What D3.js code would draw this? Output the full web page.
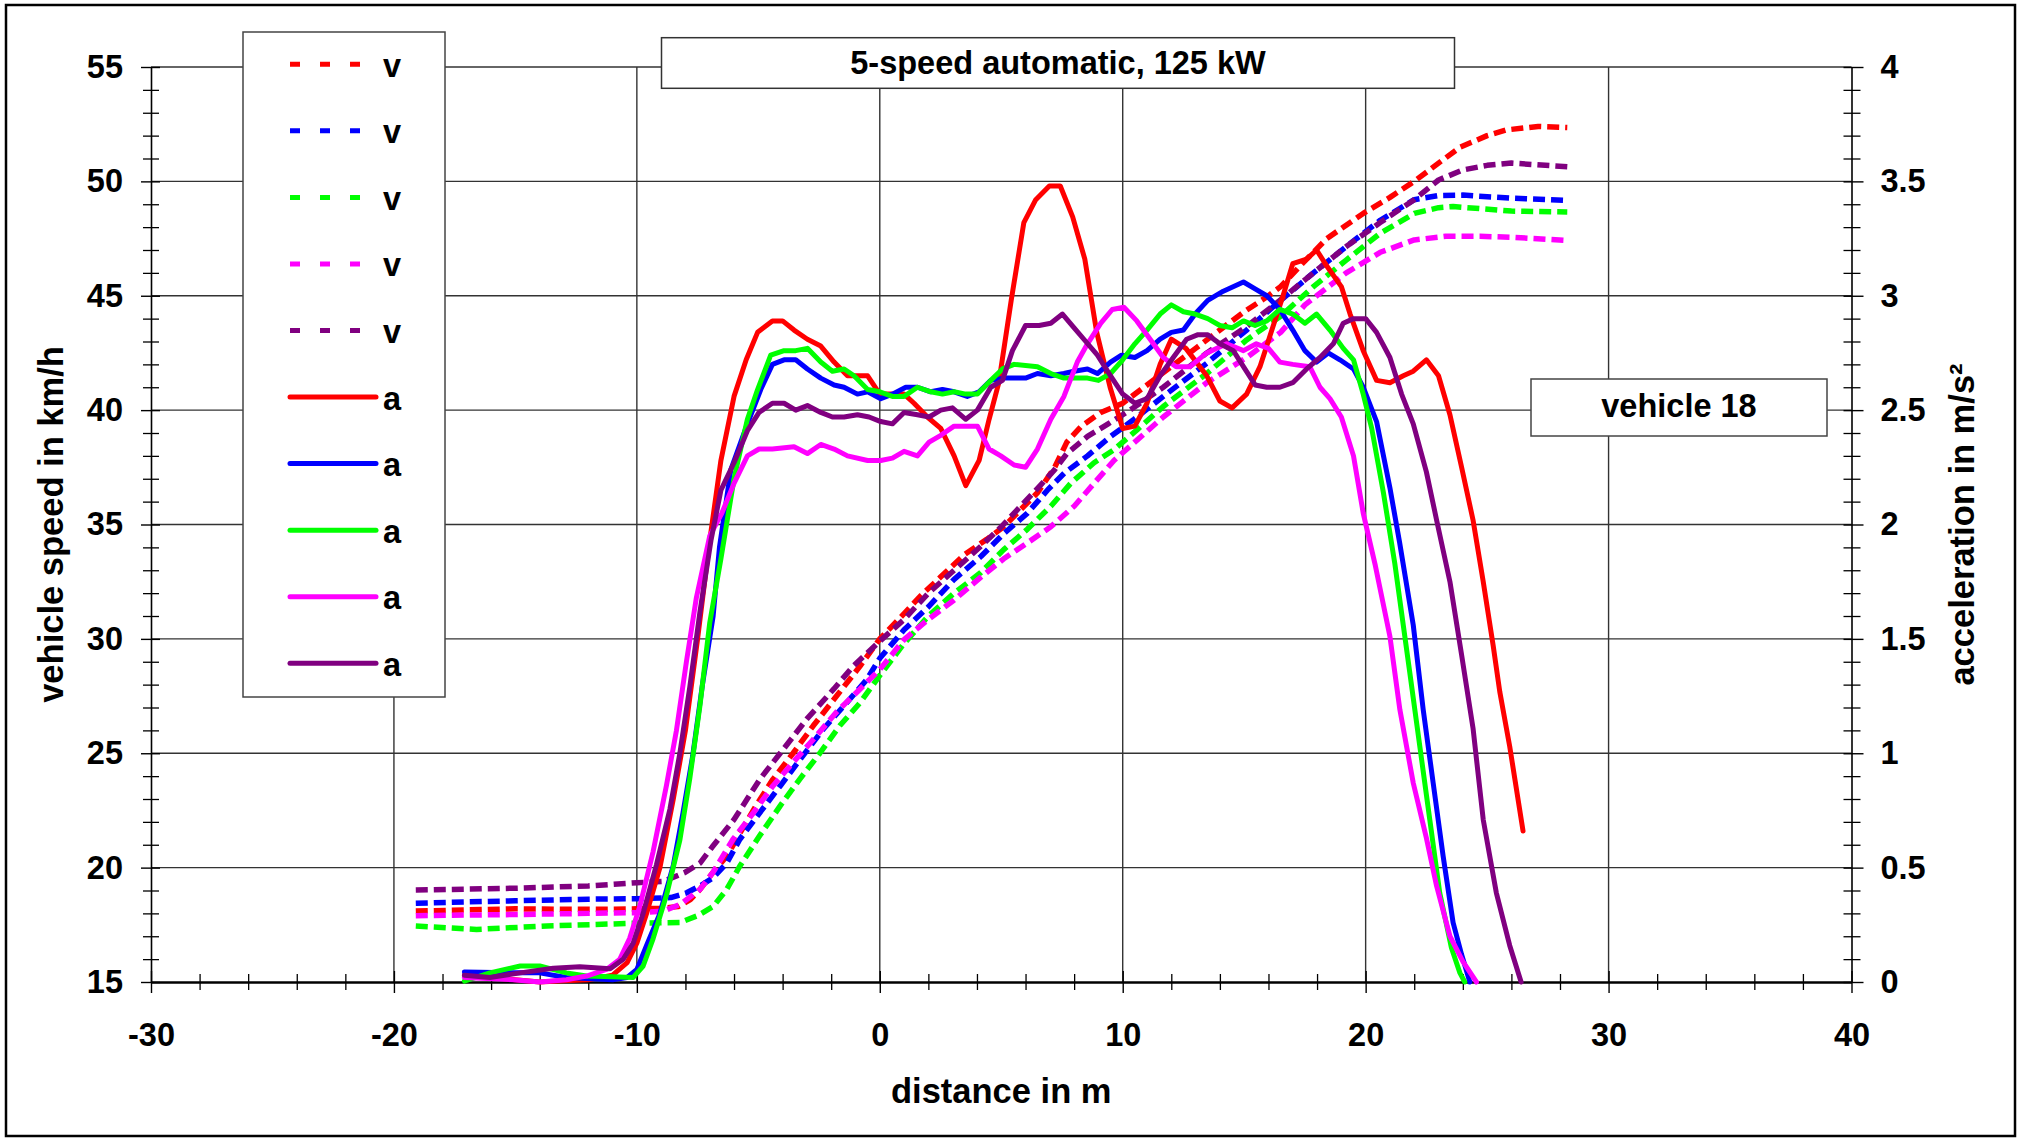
<!DOCTYPE html>
<html><head><meta charset="utf-8">
<script src="https://cdn.jsdelivr.net/npm/d3@7"></script>
<style>
body{margin:0;background:#fff}
svg text{font-family:"Liberation Sans",Arial,sans-serif;font-weight:bold;fill:#000}
</style></head><body>
<svg id="chart" width="2021" height="1138"></svg>
<script>
// ---------- data ----------
const distanceTicks = [-30,-20,-10,0,10,20,30,40];
const speedTicks = [15,20,25,30,35,40,45,50,55];
const accelTicks = [0,0.5,1,1.5,2,2.5,3,3.5,4];
const legendLabels = ["v","v","v","v","v","a","a","a","a","a"];
const seriesColors = ["#FF0000","#0000FF","#00FF00","#FF00FF","#800080"];
const titleText = "5-speed automatic, 125 kW";
const vehicleText = "vehicle 18";

// vehicle speed (km/h) vs distance (m)
const vRed = [[-19.1,18.1],[-17,18.15],[-15,18.2],[-13,18.18],[-11,18.18],[-10,18.2],[-9,18.22],[-8.3,18.3],[-7.8,18.6],[-7.4,19.05],[-6.86,19.8],[-6.3,20.5],[-5.76,21.5],[-5.1,22.7],[-4.4,23.86],[-3.57,25.0],[-2.74,26.2],[-1.78,27.5],[-0.82,28.8],[0,30.0],[1,31.1],[1.7,31.9],[2.5,32.7],[3.5,33.7],[4.4,34.35],[5.1,34.9],[5.8,35.65],[6.5,36.4],[7.2,37.5],[7.7,38.6],[8.3,39.3],[9.1,39.9],[10,40.3],[11,41.1],[12,41.9],[13,42.7],[14,43.5],[15,44.3],[16,45.0],[16.5,45.4],[17.3,46.3],[18.4,47.5],[19.9,48.6],[21,49.3],[22,50.0],[23,50.8],[23.9,51.5],[25,52.0],[25.8,52.25],[27.1,52.4],[28.3,52.35]];
const vBlue = [[-19.1,18.44],[-17,18.5],[-15,18.55],[-12,18.62],[-10,18.64],[-8.6,18.69],[-7.95,18.9],[-7.4,19.2],[-6.86,19.56],[-6.3,20.2],[-5.76,21.24],[-4.94,22.4],[-4.1,23.57],[-3.3,24.7],[-2.33,26.05],[-1.37,27.2],[-0.55,28.2],[0,29.15],[1,30.4],[2,31.4],[3.06,32.6],[4.16,33.6],[5.1,34.6],[6.08,35.5],[6.9,36.5],[7.6,37.25],[8.55,38.0],[9.5,38.85],[10.47,39.6],[11.67,40.6],[13.46,42.05],[15.1,43.5],[16.5,44.8],[17.85,46.0],[19.2,47.15],[20.6,48.3],[22,49.2],[23,49.38],[24,49.4],[25,49.33],[26.1,49.26],[28.3,49.17]];
const vGreen = [[-19.1,17.45],[-16.6,17.3],[-13.7,17.45],[-10,17.57],[-8.23,17.6],[-7.5,17.9],[-6.86,18.3],[-6.3,19.05],[-5.76,20.07],[-4.94,21.4],[-4.1,22.7],[-3.3,23.86],[-2.47,25.0],[-1.65,26.2],[-0.82,27.2],[0,28.4],[1,29.8],[2,31.0],[3.06,32.0],[4.16,32.9],[5.1,33.9],[6.08,34.8],[7.04,35.8],[7.86,36.8],[8.82,37.7],[9.64,38.27],[10.6,39.15],[11.67,40.16],[13.46,41.6],[15.1,43.07],[16.5,44.1],[17.85,45.4],[19.2,46.56],[20.6,47.73],[22,48.6],[23,48.85],[23.6,48.9],[26,48.7],[28.3,48.66]];
const vMagenta = [[-19.1,17.9],[-15,17.95],[-12,18.0],[-10,18.03],[-8.9,18.1],[-8.2,18.4],[-7.4,19.05],[-6.86,19.8],[-6.04,21.24],[-5.2,22.4],[-4.4,23.57],[-3.57,24.6],[-2.74,25.6],[-1.78,26.8],[-0.82,27.8],[0,28.66],[1,29.97],[2,30.85],[3.06,31.7],[4.16,32.7],[5.1,33.5],[6.08,34.2],[7.04,34.9],[8,35.8],[8.82,36.8],[9.64,37.8],[10.6,38.7],[11.67,39.7],[13.46,41.2],[15.1,42.3],[16.5,43.4],[17.5,44.6],[19.2,46.0],[20.6,46.9],[22,47.44],[23.3,47.6],[24.7,47.6],[26.1,47.55],[28.3,47.42]];
const vPurple = [[-19.1,19.02],[-15,19.1],[-12,19.2],[-10,19.34],[-8.9,19.4],[-8.0,19.8],[-7.4,20.2],[-6.9,20.9],[-6.0,22.1],[-4.94,23.86],[-4.1,25.0],[-3.0,26.5],[-1.9,27.8],[-1.1,28.8],[0,29.9],[1,30.85],[2,32.0],[3.06,33.0],[4.16,34.05],[5,34.9],[5.8,35.8],[6.6,36.7],[7.2,37.4],[7.7,38.1],[8.55,38.85],[9.4,39.4],[10.3,40.0],[11.67,41.0],[13.46,42.5],[15.1,43.65],[16.47,44.8],[17.85,46.0],[19.2,47.15],[20.6,48.2],[22,49.2],[23,50.06],[24,50.5],[25,50.7],[26,50.8],[28.3,50.64]];

// acceleration (m/s²) vs distance (m)
const aRed = [[-17.1,0.03],[-16,0.02],[-15,0.01],[-14,0.0],[-13,0.005],[-12,0.01],[-11,0.03],[-10.4,0.085],[-10,0.17],[-9.6,0.3],[-9.05,0.5],[-8.5,0.8],[-8.0,1.1],[-7.5,1.5],[-7.0,1.93],[-6.54,2.28],[-6.0,2.56],[-5.5,2.72],[-5.03,2.84],[-4.42,2.89],[-4.0,2.89],[-3.53,2.85],[-2.98,2.81],[-2.43,2.78],[-1.88,2.71],[-1.33,2.65],[-0.5,2.65],[0,2.57],[1.0,2.57],[1.41,2.53],[1.96,2.47],[2.51,2.42],[3.06,2.30],[3.54,2.17],[4.09,2.28],[4.5,2.46],[4.9,2.62],[5.41,2.98],[5.93,3.32],[6.42,3.42],[6.98,3.48],[7.43,3.48],[7.94,3.345],[8.44,3.16],[8.93,2.84],[9.48,2.60],[10.0,2.42],[10.5,2.43],[11.0,2.53],[11.54,2.70],[12.0,2.81],[12.6,2.77],[13.46,2.65],[14.0,2.54],[14.5,2.51],[15.1,2.57],[15.65,2.69],[16.2,2.87],[16.6,3.0],[17.0,3.14],[17.57,3.16],[17.98,3.2],[18.4,3.13],[19.0,3.04],[19.36,2.92],[19.9,2.76],[20.45,2.63],[21.0,2.62],[21.55,2.65],[21.96,2.67],[22.5,2.72],[23.0,2.65],[23.47,2.48],[23.95,2.25],[24.42,2.02],[24.84,1.75],[25.25,1.47],[25.52,1.27],[25.93,1.03],[26.48,0.66]];
const aBlue = [[-17.1,0.044],[-15.1,0.04],[-14,0.04],[-12.9,0.02],[-11,0.01],[-10.4,0.02],[-10,0.055],[-9.6,0.16],[-9.05,0.3],[-8.5,0.51],[-8.1,0.74],[-7.7,0.99],[-7.3,1.3],[-6.86,1.6],[-6.6,1.9],[-6.13,2.24],[-5.45,2.44],[-4.9,2.59],[-4.42,2.70],[-3.94,2.72],[-3.46,2.72],[-2.98,2.68],[-2.43,2.64],[-1.88,2.61],[-1.47,2.60],[-0.92,2.57],[-0.5,2.58],[0.04,2.55],[0.52,2.57],[1.07,2.60],[1.55,2.60],[2.1,2.58],[2.58,2.59],[3.06,2.58],[3.6,2.56],[4.09,2.58],[4.57,2.63],[5.12,2.64],[6.0,2.64],[6.49,2.66],[7.04,2.65],[7.58,2.66],[8.0,2.67],[8.55,2.68],[8.96,2.66],[9.5,2.71],[9.95,2.74],[10.5,2.73],[11.0,2.76],[11.54,2.81],[12.0,2.84],[12.5,2.85],[12.98,2.92],[13.5,2.98],[14.14,3.02],[14.97,3.06],[15.45,3.03],[15.93,3.0],[16.47,2.94],[17.0,2.85],[17.5,2.76],[17.98,2.71],[18.46,2.75],[18.94,2.72],[19.5,2.68],[19.9,2.60],[20.45,2.45],[21.0,2.16],[21.4,1.92],[21.96,1.56],[22.37,1.19],[22.78,0.87],[23.19,0.55],[23.6,0.26],[23.95,0.12],[24.29,0.0]];
const aGreen = [[-17.1,0.004],[-16.05,0.04],[-14.8,0.07],[-14.0,0.07],[-12.9,0.04],[-12.07,0.026],[-11,0.023],[-10.15,0.02],[-9.74,0.07],[-9.33,0.19],[-8.78,0.38],[-8.23,0.62],[-7.82,0.89],[-7.4,1.21],[-7.0,1.57],[-6.54,1.85],[-6.0,2.20],[-5.45,2.46],[-5.03,2.59],[-4.49,2.74],[-3.94,2.76],[-3.46,2.76],[-2.98,2.77],[-2.43,2.71],[-1.95,2.67],[-1.47,2.68],[-1.06,2.65],[-0.5,2.59],[0,2.58],[0.52,2.56],[1.0,2.56],[1.55,2.60],[2.1,2.58],[2.58,2.57],[3.06,2.58],[3.54,2.57],[4.02,2.57],[4.57,2.63],[5.05,2.68],[5.53,2.70],[6.49,2.69],[7.04,2.66],[7.58,2.64],[8.13,2.64],[8.55,2.64],[9.0,2.63],[9.5,2.66],[10.0,2.72],[10.5,2.79],[11.0,2.85],[11.54,2.92],[12.0,2.96],[12.5,2.93],[12.98,2.92],[13.5,2.90],[14.0,2.87],[14.5,2.86],[14.97,2.89],[15.45,2.87],[15.93,2.89],[16.47,2.94],[17.0,2.92],[17.5,2.88],[17.98,2.92],[18.53,2.85],[19.08,2.77],[19.5,2.72],[19.9,2.57],[20.25,2.42],[20.73,2.14],[21.2,1.83],[21.82,1.35],[22.23,1.03],[22.64,0.71],[23.05,0.39],[23.53,0.15],[23.88,0.04],[24.08,0.0]];
const aMagenta = [[-17.1,0.02],[-15.1,0.01],[-14,0.0],[-12.9,0.01],[-12.07,0.026],[-11.25,0.055],[-10.7,0.10],[-10.3,0.19],[-9.88,0.33],[-9.33,0.57],[-8.78,0.86],[-8.37,1.10],[-7.96,1.40],[-7.55,1.68],[-7.0,1.95],[-6.5,2.05],[-6.0,2.18],[-5.45,2.30],[-4.97,2.33],[-4.42,2.33],[-3.53,2.34],[-2.98,2.31],[-2.43,2.35],[-1.88,2.33],[-1.33,2.30],[-0.5,2.28],[0.04,2.28],[0.52,2.29],[1.0,2.32],[1.55,2.30],[2.03,2.36],[2.51,2.39],[3.06,2.43],[4.02,2.43],[4.5,2.33],[4.98,2.30],[5.53,2.26],[6.0,2.25],[6.49,2.33],[7.04,2.46],[7.58,2.56],[8.13,2.71],[8.55,2.79],[9.1,2.88],[9.57,2.94],[10.05,2.95],[10.58,2.89],[11.13,2.81],[11.67,2.73],[12.2,2.69],[12.77,2.69],[13.46,2.75],[14.28,2.79],[14.97,2.76],[15.5,2.79],[16.0,2.77],[16.47,2.71],[17.0,2.70],[17.7,2.69],[18.12,2.60],[18.53,2.55],[19.0,2.47],[19.5,2.30],[19.9,2.05],[20.4,1.82],[21.0,1.51],[21.41,1.19],[21.96,0.87],[22.5,0.63],[22.92,0.42],[23.47,0.20],[24.0,0.09],[24.56,0.0]];
const aPurple = [[-17.1,0.03],[-16.05,0.02],[-14.8,0.04],[-13.44,0.06],[-12.35,0.067],[-11.1,0.058],[-10.56,0.10],[-10.15,0.17],[-9.74,0.30],[-9.2,0.51],[-8.64,0.755],[-8.23,1.0],[-7.82,1.29],[-7.4,1.62],[-6.95,1.93],[-6.54,2.15],[-6.0,2.27],[-5.45,2.41],[-4.97,2.49],[-4.42,2.53],[-3.94,2.53],[-3.46,2.50],[-2.98,2.52],[-2.43,2.49],[-1.95,2.47],[-1.47,2.47],[-0.92,2.48],[-0.44,2.47],[0.04,2.45],[0.52,2.44],[1.0,2.49],[1.55,2.48],[2.03,2.47],[2.51,2.50],[2.99,2.51],[3.54,2.46],[4.02,2.50],[4.57,2.60],[5.05,2.63],[5.46,2.76],[6.0,2.87],[6.56,2.87],[7.04,2.88],[7.52,2.92],[8.0,2.86],[8.48,2.80],[8.96,2.74],[9.5,2.65],[10.0,2.57],[10.5,2.53],[11.0,2.55],[11.54,2.65],[12.08,2.73],[12.63,2.81],[13.1,2.83],[13.5,2.83],[14.0,2.79],[14.55,2.76],[14.97,2.69],[15.45,2.61],[15.93,2.60],[16.47,2.60],[17.0,2.62],[17.57,2.68],[18.12,2.73],[18.67,2.79],[19.08,2.88],[19.5,2.90],[20.0,2.90],[20.45,2.84],[21.0,2.73],[21.48,2.57],[21.96,2.44],[22.5,2.23],[22.92,2.02],[23.47,1.75],[23.95,1.43],[24.42,1.11],[24.84,0.71],[25.38,0.39],[25.93,0.16],[26.4,0.0]];

const speedSeries = [vRed, vBlue, vGreen, vMagenta, vPurple];
const accelSeries = [aRed, aBlue, aGreen, aMagenta, aPurple];

// ---------- drawing ----------
const svg = d3.select('#chart');
const FONT = '"Liberation Sans", Arial, sans-serif';
const FS = 32.5;
const FS_TITLE = 34.5;

const x = d3.scaleLinear().domain([-30, 40]).range([151, 1851.5]);
const yL = d3.scaleLinear().domain([15, 55]).range([982, 67]);
const yR = d3.scaleLinear().domain([0, 4]).range([982, 67]);

// outer frame
svg.append('rect').attr('x', 6).attr('y', 5).attr('width', 2009).attr('height', 1131)
  .attr('fill', '#fff').attr('stroke', '#000').attr('stroke-width', 2.5);

// grid
const grid = svg.append('g');
grid.selectAll('line.gh').data(speedTicks.filter(d => d > 15)).join('line').attr('class', 'gh')
  .attr('x1', x(-30)).attr('x2', x(40)).attr('y1', d => yL(d)).attr('y2', d => yL(d))
  .attr('stroke', '#333').attr('stroke-width', 1.4);
grid.selectAll('line.gv').data(distanceTicks.filter(d => d > -30 && d < 40)).join('line').attr('class', 'gv')
  .attr('x1', d => x(d)).attr('x2', d => x(d)).attr('y1', yL(55)).attr('y2', yL(15))
  .attr('stroke', '#333').attr('stroke-width', 1.4);

function styleAxis(g) {
  g.attr('font-size', FS).attr('font-family', FONT).attr('font-weight', 'bold');
  g.selectAll('text').attr('fill', '#000');
  g.selectAll('line').attr('stroke', '#000').attr('stroke-width', 1.4);
}
const plainFormat = d => String(d);

// left axis
const minorSpeed = d3.range(15, 56).filter(d => d % 5 !== 0);
svg.append('g').attr('transform', `translate(${x(-30)},0)`)
  .call(d3.axisLeft(yL).tickValues(minorSpeed).tickSize(8).tickFormat(''))
  .call(g => g.select('.domain').remove())
  .call(g => g.selectAll('.tick line').attr('x1', 8).attr('stroke', '#000').attr('stroke-width', 1.3));
const axL = svg.append('g').attr('transform', `translate(${x(-30)},0)`)
  .call(d3.axisLeft(yL).tickValues(speedTicks).tickSize(10).tickSizeOuter(0).tickPadding(18).tickFormat(plainFormat))
  .call(styleAxis);
axL.selectAll('.tick line').attr('x1', 9);
axL.select('.domain').attr('stroke', '#000').attr('stroke-width', 1.6);

// right axis
const minorAccel = d3.range(0, 41).filter(i => i % 5 !== 0).map(i => i / 10);
svg.append('g').attr('transform', `translate(${x(40)},0)`)
  .call(d3.axisRight(yR).tickValues(minorAccel).tickSize(9).tickFormat(''))
  .call(g => g.select('.domain').remove())
  .call(g => g.selectAll('.tick line').attr('x1', -8).attr('stroke', '#000').attr('stroke-width', 1.3));
const axR = svg.append('g').attr('transform', `translate(${x(40)},0)`)
  .call(d3.axisRight(yR).tickValues(accelTicks).tickSize(12).tickSizeOuter(0).tickPadding(17).tickFormat(plainFormat))
  .call(styleAxis);
axR.selectAll('.tick line').attr('x1', -8);
axR.select('.domain').attr('stroke', '#000').attr('stroke-width', 1.6);

// bottom axis
const minorDist = d3.range(-30, 41, 2).filter(d => d % 10 !== 0);
svg.append('g').attr('transform', `translate(0,${yL(15)})`)
  .call(d3.axisBottom(x).tickValues(minorDist).tickSize(8).tickFormat(''))
  .call(g => g.select('.domain').remove())
  .call(g => g.selectAll('.tick line').attr('y1', -8).attr('stroke', '#000').attr('stroke-width', 1.3));
const axB = svg.append('g').attr('transform', `translate(0,${yL(15)})`)
  .call(d3.axisBottom(x).tickValues(distanceTicks).tickSize(11).tickSizeOuter(0).tickPadding(30).tickFormat(plainFormat))
  .call(styleAxis);
axB.selectAll('.tick line').attr('y1', -11);
axB.select('.domain').attr('stroke', '#000').attr('stroke-width', 2.6);

// axis titles
svg.append('text').attr('transform', `translate(63,${(yL(15) + yL(55)) / 2}) rotate(-90)`)
  .attr('text-anchor', 'middle').attr('font-size', FS_TITLE).text('vehicle speed in km/h');
svg.append('text').attr('transform', `translate(1974,${(yL(15) + yL(55)) / 2}) rotate(-90)`)
  .attr('text-anchor', 'middle').attr('font-size', FS_TITLE).text('acceleration in m/s²');
svg.append('text').attr('x', (x(-30) + x(40)) / 2).attr('y', 1103)
  .attr('text-anchor', 'middle').attr('font-size', FS_TITLE).text('distance in m');

// data lines
const lineV = d3.line().x(d => x(d[0])).y(d => yL(d[1]));
const lineA = d3.line().x(d => x(d[0])).y(d => yR(d[1]));
svg.append('g').selectAll('path').data(speedSeries).join('path')
  .attr('d', lineV).attr('fill', 'none').attr('stroke', (d, i) => seriesColors[i])
  .attr('stroke-width', 5.5).attr('stroke-dasharray', '12,6').attr('stroke-linejoin', 'round');
svg.append('g').selectAll('path').data(accelSeries).join('path')
  .attr('d', lineA).attr('fill', 'none').attr('stroke', (d, i) => seriesColors[i])
  .attr('stroke-width', 5).attr('stroke-linejoin', 'round').attr('stroke-linecap', 'round');

// legend
const lg = svg.append('g');
lg.append('rect').attr('x', 243).attr('y', 32).attr('width', 202).attr('height', 665)
  .attr('fill', '#fff').attr('stroke', '#444').attr('stroke-width', 1.5);
const items = lg.selectAll('g.item').data(legendLabels).join('g').attr('class', 'item')
  .attr('transform', (d, i) => `translate(0,${64.3 + i * 66.55})`);
items.append('line').attr('x1', 290).attr('x2', (d, i) => i < 5 ? 361 : 376).attr('y1', 0).attr('y2', 0)
  .attr('stroke', (d, i) => seriesColors[i % 5])
  .attr('stroke-width', 5)
  .attr('stroke-dasharray', (d, i) => i < 5 ? '10,20' : null)
  .attr('stroke-linecap', (d, i) => i < 5 ? 'butt' : 'round');
items.append('text').attr('x', 383).attr('y', 12.5).attr('font-size', FS).text(d => d);

// title box
svg.append('rect').attr('x', 661.5).attr('y', 37.7).attr('width', 793).attr('height', 50.6)
  .attr('fill', '#fff').attr('stroke', '#333').attr('stroke-width', 1.5);
svg.append('text').attr('x', 1058).attr('y', 73.5).attr('text-anchor', 'middle').attr('font-size', FS).text(titleText);

// vehicle box
svg.append('rect').attr('x', 1531).attr('y', 379).attr('width', 296).attr('height', 57)
  .attr('fill', '#fff').attr('stroke', '#444').attr('stroke-width', 1.5);
svg.append('text').attr('x', 1679).attr('y', 417).attr('text-anchor', 'middle').attr('font-size', FS).text(vehicleText);
</script>
</body></html>
